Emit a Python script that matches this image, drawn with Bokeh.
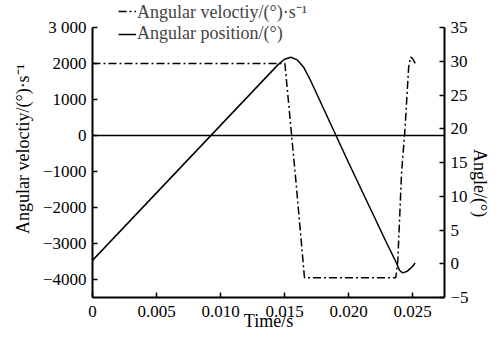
import math
from bokeh.plotting import figure
from bokeh.models import Range1d, LinearAxis, FixedTicker, Span, Legend, LegendItem
from bokeh.embed import file_html
from bokeh.resources import INLINE

# ---- data ----
vel_t = [0.0, 0.01503, 0.01590, 0.01656, 0.02369, 0.02385, 0.02415, 0.02440, 0.02470, 0.02485, 0.02498, 0.02522]
vel_v = [2000, 2000, -1300, -3950, -3950, -3500, -1000, 100, 1900, 2180, 2150, 2000]

ang_t = [0.0, 0.005, 0.010, 0.0145, 0.0150, 0.01549, 0.0160, 0.0165, 0.0170, 0.0200, 0.0230, 0.0237, 0.0240, 0.02423, 0.0246, 0.0250, 0.0252]
ang_v = [0.5, 10.5, 20.5, 29.5, 30.3, 30.6, 30.2, 29.1, 27.3, 15.0, 3.0, 0.3, -1.0, -1.35, -1.1, -0.4, 0.1]

x_ticks = [0, 0.005, 0.010, 0.015, 0.020, 0.025]
x_labels = ["0", "0.005", "0.010", "0.015", "0.020", "0.025"]
yl_ticks = [3000, 2000, 1000, 0, -1000, -2000, -3000, -4000]
yl_labels = ["3 000", "2000", "1000", "0", "\u22121000", "\u22122000", "\u22123000", "\u22124000"]
yr_ticks = [-5, 0, 5, 10, 15, 20, 25, 30, 35]
yr_labels = ["\u22125", "0", "5", "10", "15", "20", "25", "30", "35"]

# axis extents (the frame reaches a little higher so the legend is not clipped)
vel_lo, vel_hi, vel_top = -4500, 3000, 3750
ang_lo, ang_hi, ang_top = -5, 35, 39

FONT = "Liberation Serif"
FS_TICK = "17px"
FS_LAB = "18px"

p = figure(width=502, height=340, output_backend="svg", toolbar_location=None,
           x_range=Range1d(0, 0.0275), y_range=Range1d(vel_lo, vel_top),
           min_border_left=92, min_border_right=52, min_border_top=0, min_border_bottom=43)
p.outline_line_color = None
p.grid.visible = False
p.background_fill_color = "white"
p.border_fill_color = "white"

p.extra_y_ranges = {"angle": Range1d(ang_lo, ang_top)}

def style_axis(ax, ticks, labels):
    ax.ticker = FixedTicker(ticks=ticks)
    ax.major_label_overrides = {t: l for t, l in zip(ticks, labels)}
    ax.minor_tick_line_color = None
    ax.major_tick_in = 5
    ax.major_tick_out = 0
    ax.major_tick_line_width = 1.5
    ax.axis_line_width = 2
    ax.axis_line_color = "black"
    ax.major_tick_line_color = "black"
    ax.major_label_text_font = FONT
    ax.major_label_text_font_size = FS_TICK
    ax.major_label_text_color = "black"
    ax.axis_label_text_font = FONT
    ax.axis_label_text_font_size = FS_LAB
    ax.axis_label_text_font_style = "normal"
    ax.axis_label_text_color = "black"

xa = p.xaxis[0]
style_axis(xa, x_ticks, x_labels)
xa.axis_label = "Time/s"
xa.major_label_standoff = 8
xa.axis_label_standoff = -9

ya = p.yaxis[0]
style_axis(ya, yl_ticks, yl_labels)
ya.bounds = (vel_lo, vel_hi)
ya.axis_label = "Angular veloctiy/(\u00b0)\u00b7s\u207b\u00b9"
ya.major_label_standoff = 6
ya.axis_label_standoff = 7

ra = LinearAxis(y_range_name="angle")
style_axis(ra, yr_ticks, yr_labels)
ra.bounds = (ang_lo, ang_hi)
ra.axis_label = "Angle/(\u00b0)"
ra.axis_label_orientation = -math.pi / 2
ra.major_label_standoff = 6
ra.axis_label_standoff = 8
p.add_layout(ra, "right")

p.add_layout(Span(location=0, dimension="width", line_color="black", line_width=1.5))

r_vel = p.line(vel_t, vel_v, line_color="black", line_width=1.5, line_dash="8 3 2 3")
r_ang = p.line(ang_t, ang_v, line_color="black", line_width=1.5, y_range_name="angle")

legend = Legend(items=[LegendItem(label="Angular veloctiy/(\u00b0)\u00b7s\u207b\u00b9", renderers=[r_vel]),
                       LegendItem(label="Angular position/(\u00b0)", renderers=[r_ang])],
                location=(26, 253), orientation="vertical",
                border_line_color=None, background_fill_alpha=0,
                label_text_font=FONT, label_text_font_size=FS_LAB,
                glyph_width=18, glyph_height=18, label_height=18,
                label_standoff=1, spacing=0, padding=0, margin=0)
p.add_layout(legend, "center")

open("out.html", "w").write(file_html(p, INLINE))
